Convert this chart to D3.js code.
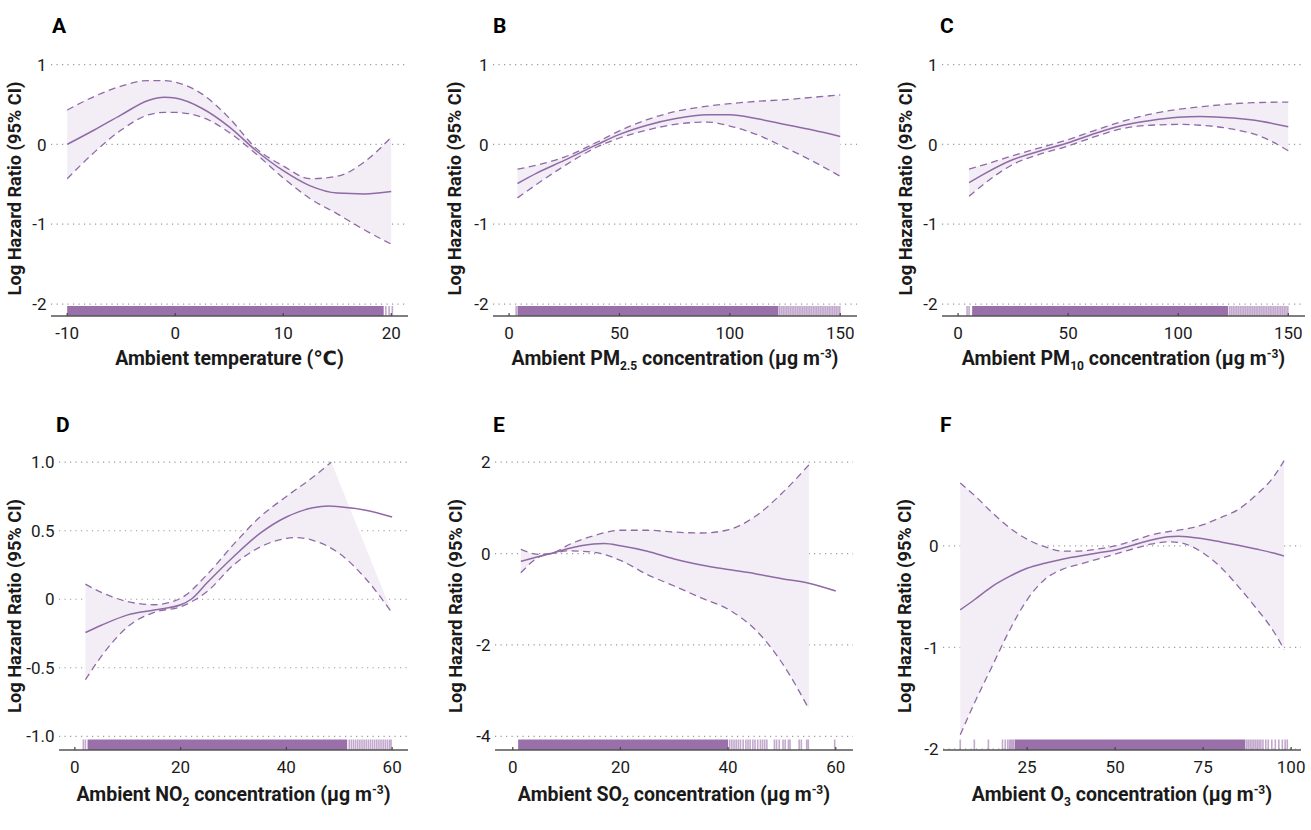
<!DOCTYPE html>
<html><head><meta charset="utf-8">
<script src="https://cdn.jsdelivr.net/npm/d3@7"></script>
<style>
body{margin:0;background:#fff;}
svg{display:block;font-family:Roboto,'DejaVu Sans',sans-serif;}
</style>
</head><body>
<svg id="chart" width="1311" height="830"></svg>
<script>
// ---------------- DATA ----------------
// A: temperature
const tempX     = [-10,-7.5,-5,-2.5,-1,0,2.5,5,7.5,10,12.5,15,17.5,20];
const tempFit   = [0,0.18,0.37,0.55,0.59,0.58,0.45,0.22,-0.08,-0.33,-0.52,-0.61,-0.62,-0.59];
const tempUpper = [0.43,0.6,0.73,0.8,0.8,0.78,0.63,0.33,-0.05,-0.27,-0.43,-0.4,-0.22,0.09];
const tempLower = [-0.43,-0.1,0.18,0.37,0.4,0.4,0.34,0.15,-0.12,-0.42,-0.68,-0.87,-1.07,-1.25];
const tempRugDense = [-10,19.3];
const tempRugSparse = [19.5,19.8,20.1];

// B: PM2.5
const pm25X     = [3.8,12.5,25,40,50,62.5,75,90,100,112.5,125,137.5,150];
const pm25Fit   = [-0.49,-0.36,-0.2,0.0,0.125,0.24,0.32,0.37,0.37,0.32,0.25,0.18,0.1];
const pm25Upper = [-0.31,-0.26,-0.16,0.03,0.17,0.31,0.41,0.48,0.51,0.54,0.56,0.59,0.62];
const pm25Lower = [-0.67,-0.5,-0.27,-0.03,0.08,0.18,0.25,0.28,0.23,0.12,-0.04,-0.21,-0.4];
const pm25RugDense = [3.8,122];
const pm25RugSparse = [3.2,122.6,123.4,124.2,125,125.8,126.6,127.4,128.2,129,129.8,130.6,131.4,132.2,133,133.8,134.6,135.4,136.2,137,137.8,138.6,139.4,140.2,141,141.8,142.6,143.4,144.2,145,145.8,146.6,147.4,148.2,149,149.8];

// C: PM10
const pm10X     = [5,12.5,25,37.5,50,62.5,75,87.5,100,110,125,137.5,150];
const pm10Fit   = [-0.48,-0.36,-0.19,-0.08,0.02,0.14,0.24,0.3,0.34,0.35,0.33,0.29,0.22];
const pm10Upper = [-0.31,-0.25,-0.14,-0.04,0.06,0.18,0.29,0.38,0.44,0.47,0.51,0.525,0.53];
const pm10Lower = [-0.65,-0.48,-0.25,-0.12,-0.02,0.1,0.2,0.24,0.25,0.24,0.19,0.1,-0.08];
const pm10RugDense = [6.4,122.7];
const pm10RugSparse = [4.1,5,123.4,124.2,125,125.8,126.6,127.4,128.2,129,129.8,130.6,131.4,132.2,133,133.8,134.6,135.4,136.2,137,137.8,138.6,139.4,140.2,141,141.8,142.6,143.4,144.2,145,145.8,146.6,147.4,148.2,149,149.8];

// D: NO2
const no2X      = [2,5,10,15,20,22,25,30,35,40,45,48,50,55,60];
const no2Fit    = [-0.243,-0.19,-0.114,-0.078,-0.04,0.0,0.12,0.31,0.48,0.6,0.667,0.68,0.675,0.65,0.6];
const no2UpperX = [2,5,10,15,20,25,30,35,40,45,48.5];
const no2Upper  = [0.11,0.05,-0.017,-0.04,0.007,0.18,0.4,0.6,0.75,0.89,1.0];
const no2LowerX = [2,5,10,15,20,25,30,35,40,42,45,50,55,60];
const no2Lower  = [-0.587,-0.417,-0.2,-0.095,-0.055,0.056,0.25,0.38,0.444,0.45,0.43,0.335,0.15,-0.1];
const no2RugDense = [2.4,51.5];
const no2RugSparse = [1.6,2.0,51.9,52.3,52.7,53.1,53.5,53.9,54.3,54.7,55.1,55.5,55.9,56.3,56.7,57.1,57.5,57.9,58.3,58.7,59.1,59.5,59.8];

// E: SO2
const so2X      = [1.5,5,8,10,15,17,20,25,30,35,40,45,50,55,60];
const so2Fit    = [-0.17,-0.06,0.03,0.1,0.21,0.22,0.17,0.05,-0.12,-0.25,-0.35,-0.44,-0.55,-0.65,-0.82];
const so2CIX    = [1.5,5,8,10,15,20,25,30,35,40,45,50,55];
const so2Upper  = [0.09,-0.02,0.04,0.17,0.39,0.51,0.51,0.47,0.45,0.52,0.81,1.32,1.94];
const so2Lower  = [-0.42,-0.07,0.015,0.06,0.03,-0.15,-0.46,-0.71,-0.97,-1.22,-1.66,-2.39,-3.4];
const so2RugDense = [1,40];
const so2RugSparse = [40.3,40.7,41.1,41.5,41.9,42.3,42.8,43.3,43.7,44.1,44.6,45,45.5,46,46.4,46.8,47.2,48.6,49,49.5,50.2,50.6,51.2,51.5,53.2,53.6,54.6,54.9,59.8];

// F: O3
const o3X      = [6,10,15,20,25,30,35,40,45,50,55,60,65,68,75,80,85,90,95,98];
const o3Fit    = [-0.63,-0.53,-0.4,-0.3,-0.22,-0.17,-0.13,-0.1,-0.07,-0.04,0.007,0.056,0.09,0.096,0.07,0.04,0.007,-0.03,-0.07,-0.1];
const o3Upper  = [0.62,0.5,0.33,0.18,0.066,-0.007,-0.05,-0.05,-0.03,0,0.05,0.106,0.14,0.155,0.21,0.28,0.36,0.5,0.68,0.84];
const o3Lower  = [-1.86,-1.55,-1.19,-0.83,-0.53,-0.33,-0.23,-0.18,-0.13,-0.08,-0.03,0.017,0.04,0.035,-0.07,-0.21,-0.4,-0.61,-0.84,-1.02];
const o3RugDense = [21.5,87];
const o3RugSparse = [6,10,14,18,18.8,19.5,20,20.4,20.8,21.2,87.4,87.9,88.4,88.9,89.4,89.9,90.4,90.9,91.4,92,92.8,93.5,94.5,95.5,96.5,97.5,98.3,98.9];

// Tick values and labels
const tempXTicks = [-10,0,10,20];
const pmXTicks   = [0,50,100,150];
const gasXTicks  = [0,20,40,60];
const o3XTicks   = [25,50,75,100];
const topYTicks  = [-2,-1,0,1];
const topYLabels = ["-2","-1","0","1"];
const no2YTicks  = [-1,-0.5,0,0.5,1];
const no2YLabels = ["-1.0","-0.5","0","0.5","1.0"];
const so2YTicks  = [-4,-2,0,2];
const so2YLabels = ["-4","-2","0","2"];
const o3YTicks   = [-2,-1,0];
const o3YLabels  = ["-2","-1","0"];

const panelLetters = ["A","B","C","D","E","F"];
const yTitle = "Log Hazard Ratio (95% CI)";
const xTitles = [
  [{t:"Ambient temperature (\u2103)"}],
  [{t:"Ambient PM"},{t:"2.5",sub:true},{t:" concentration (\u03bcg m"},{t:"-3",sup:true},{t:")"}],
  [{t:"Ambient PM"},{t:"10",sub:true},{t:" concentration (\u03bcg m"},{t:"-3",sup:true},{t:")"}],
  [{t:"Ambient NO"},{t:"2",sub:true},{t:" concentration (\u03bcg m"},{t:"-3",sup:true},{t:")"}],
  [{t:"Ambient SO"},{t:"2",sub:true},{t:" concentration (\u03bcg m"},{t:"-3",sup:true},{t:")"}],
  [{t:"Ambient O"},{t:"3",sub:true},{t:" concentration (\u03bcg m"},{t:"-3",sup:true},{t:")"}]
];

// ---------------- STYLE / LAYOUT ----------------
const lineColor = "#8f6aa6";
const rugColor  = "#9a70ab";
const bandColor = "#f3eef6";
const textColor = "#1a1a1a";

const panels = [
  {box:{l:51,r:408,t:52.6,b:316}, xd:[-11.5,21.55], yd:[-2.15,1.15], xt:tempXTicks, yt:topYTicks, yl:topYLabels,
   fitX:tempX, fit:tempFit, upX:tempX, up:tempUpper, loX:tempX, lo:tempLower, rd:tempRugDense, rs:tempRugSparse,
   yTitleX:21, yTitleY:188.5, letterX:52, letterY:32.7, tickY:339, titleY:365, rugH:10},
  {box:{l:493,r:857,t:52.6,b:316}, xd:[-7.3,157.6], yd:[-2.15,1.15], xt:pmXTicks, yt:topYTicks, yl:topYLabels,
   fitX:pm25X, fit:pm25Fit, upX:pm25X, up:pm25Upper, loX:pm25X, lo:pm25Lower, rd:pm25RugDense, rs:pm25RugSparse,
   yTitleX:461, yTitleY:188.5, letterX:493, letterY:32.5, tickY:339, titleY:365, rugH:10},
  {box:{l:942,r:1305,t:52.6,b:316}, xd:[-7.3,157.6], yd:[-2.15,1.15], xt:pmXTicks, yt:topYTicks, yl:topYLabels,
   fitX:pm10X, fit:pm10Fit, upX:pm10X, up:pm10Upper, loX:pm10X, lo:pm10Lower, rd:pm10RugDense, rs:pm10RugSparse,
   yTitleX:911.5, yTitleY:188.5, letterX:940, letterY:32.5, tickY:339, titleY:365, rugH:10},
  {box:{l:59,r:408,t:448.5,b:750}, xd:[-3.0,63.0], yd:[-1.1,1.1], xt:gasXTicks, yt:no2YTicks, yl:no2YLabels,
   fitX:no2X, fit:no2Fit, upX:no2UpperX, up:no2Upper, loX:no2LowerX, lo:no2Lower, rd:no2RugDense, rs:no2RugSparse,
   yTitleX:21, yTitleY:606, letterX:56, letterY:431.7, tickY:773, titleY:800.5, rugH:10.5},
  {box:{l:495,r:853,t:448.5,b:750}, xd:[-3.3,63.2], yd:[-4.3,2.3], xt:gasXTicks, yt:so2YTicks, yl:so2YLabels,
   fitX:so2X, fit:so2Fit, upX:so2CIX, up:so2Upper, loX:so2CIX, lo:so2Lower, rd:so2RugDense, rs:so2RugSparse,
   yTitleX:461.5, yTitleY:606, letterX:493, letterY:431.7, tickY:773, titleY:800.5, rugH:10.5},
  {box:{l:943,r:1301,t:448.5,b:750}, xd:[1.1,102.8], yd:[-2.01,0.96], xt:o3XTicks, yt:o3YTicks, yl:o3YLabels,
   fitX:o3X, fit:o3Fit, upX:o3X, up:o3Upper, loX:o3X, lo:o3Lower, rd:o3RugDense, rs:o3RugSparse,
   yTitleX:911, yTitleY:606, letterX:940, letterY:431.7, tickY:773, titleY:800.5, rugH:10.5}
];

const svg = d3.select("#chart");

panels.forEach((p,i)=>{
  const b = p.box;
  const x = d3.scaleLinear().domain(p.xd).range([b.l,b.r]);
  const y = d3.scaleLinear().domain(p.yd).range([b.b,b.t]);
  const g = svg.append("g");

  // gridlines
  g.selectAll("line.grid").data(p.yt).enter().append("line")
    .attr("x1",b.l).attr("x2",b.r)
    .attr("y1",d=>y(d)).attr("y2",d=>y(d))
    .attr("stroke","#9a9a9a").attr("stroke-width",1.2)
    .attr("stroke-dasharray","1.2,4.3");

  // y tick labels
  g.selectAll("text.yt").data(p.yt).enter().append("text")
    .attr("x",b.l-4.5).attr("y",d=>y(d)).attr("dy","0.36em")
    .attr("text-anchor","end").attr("font-size",17).attr("fill",textColor)
    .text((d,k)=>p.yl[k]);

  // ribbon
  const upPts = p.upX.map((v,k)=>[v,p.up[k]]);
  const loPts = p.loX.map((v,k)=>[v,p.lo[k]]);
  const lineGen = d3.line().x(d=>x(d[0])).y(d=>y(d[1])).curve(d3.curveMonotoneX);
  const upPath = lineGen(upPts);
  const loRevPath = lineGen(loPts.slice().reverse());
  g.append("path")
    .attr("d", upPath + "L" + loRevPath.slice(1) + "Z")
    .attr("fill",bandColor).attr("stroke","none");

  // CI dashed lines
  [upPts,loPts].forEach(pts=>{
    g.append("path").attr("d",lineGen(pts))
      .attr("fill","none").attr("stroke",lineColor).attr("stroke-width",1.3)
      .attr("stroke-dasharray","7,4.5");
  });

  // fit line
  g.append("path").attr("d",lineGen(p.fitX.map((v,k)=>[v,p.fit[k]])))
    .attr("fill","none").attr("stroke",lineColor).attr("stroke-width",1.5);

  // rug
  g.append("rect")
    .attr("x",x(p.rd[0])).attr("width",x(p.rd[1])-x(p.rd[0]))
    .attr("y",b.b-p.rugH).attr("height",p.rugH)
    .attr("fill",rugColor);
  g.selectAll("line.rug").data(p.rs).enter().append("line")
    .attr("x1",d=>x(d)).attr("x2",d=>x(d))
    .attr("y1",b.b).attr("y2",b.b-p.rugH)
    .attr("stroke",rugColor).attr("stroke-width",1.6).attr("stroke-opacity",0.6);

  // x axis line
  g.append("line").attr("x1",b.l).attr("x2",b.r).attr("y1",b.b).attr("y2",b.b)
    .attr("stroke","#555").attr("stroke-width",1.7);
  // ticks (inward)
  g.selectAll("line.xt").data(p.xt).enter().append("line")
    .attr("x1",d=>x(d)).attr("x2",d=>x(d)).attr("y1",b.b).attr("y2",b.b-3)
    .attr("stroke","#444").attr("stroke-width",1.2);
  // x tick labels
  g.selectAll("text.xt").data(p.xt).enter().append("text")
    .attr("x",d=>x(d)).attr("y",p.tickY)
    .attr("text-anchor","middle").attr("font-size",17).attr("fill",textColor)
    .text(d=>d);

  // x title
  const tt = g.append("text").attr("x",(b.l+b.r)/2).attr("y",p.titleY)
    .attr("text-anchor","middle").attr("font-size",19.5).attr("font-weight",700).attr("fill",textColor);
  let shift = 0;
  xTitles[i].forEach(seg=>{
    const ts = tt.append("tspan").text(seg.t);
    if(seg.sub){ ts.attr("font-size",12).attr("dy",5-shift); shift=5; }
    else if(seg.sup){ ts.attr("font-size",12).attr("dy",-7-shift); shift=-7; }
    else { if(shift!==0){ ts.attr("dy",-shift); shift=0; } }
  });

  // y title
  g.append("text")
    .attr("transform",`translate(${p.yTitleX},${p.yTitleY}) rotate(-90)`)
    .attr("text-anchor","middle").attr("font-size",18.2).attr("font-weight",700).attr("fill",textColor)
    .text(yTitle);

  // panel letter
  g.append("text").attr("x",p.letterX).attr("y",p.letterY)
    .attr("font-size",21).attr("font-weight",700).attr("fill","#000")
    .text(panelLetters[i]);
});
</script>
</body></html>
